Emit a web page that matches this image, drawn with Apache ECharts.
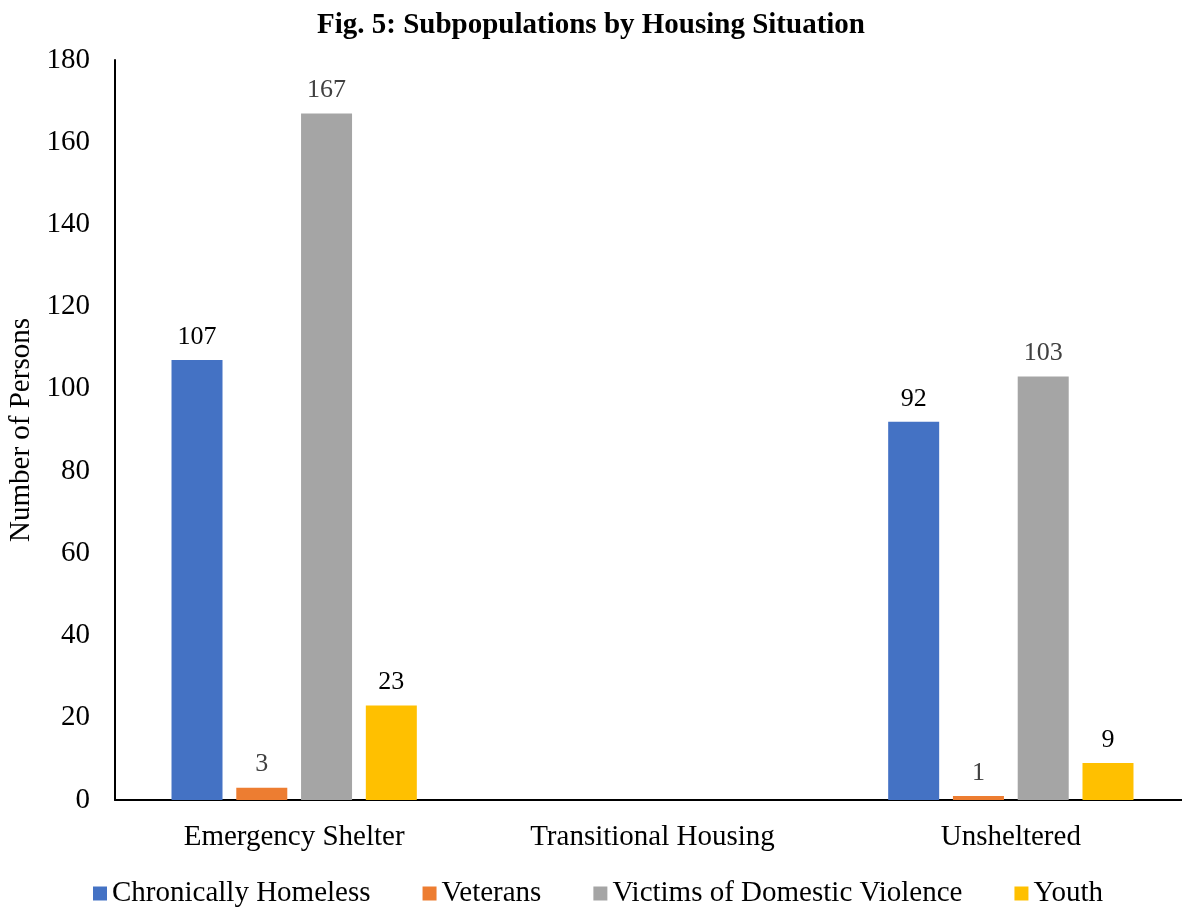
<!DOCTYPE html>
<html>
<head>
<meta charset="utf-8">
<script src="https://cdn.jsdelivr.net/npm/echarts@6/dist/echarts.min.js"></script>
<style>
    html, body { margin: 0; padding: 0; background: #fff; }
    #main { width: 1182px; height: 908px; }
</style>
</head>
<body>
<div id="main"></div>
<script>
var categories = ['Emergency Shelter', 'Transitional Housing', 'Unsheltered'];
var chronicallyHomeless = [107, '-', 92];
var veterans = [3, '-', 1];
var victimsDV = [167, '-', 103];
var youth = [23, '-', 9];
var yTicks = [0, 20, 40, 60, 80, 100, 120, 140, 160, 180];

var font = 'Liberation Serif, Times New Roman, serif';

function barSeries(name, data, color, labelColor) {
    return {
        name: name,
        type: 'bar',
        data: data,
        barWidth: 51,
        barGap: '27%',
        itemStyle: { color: color },
        label: {
            show: true,
            position: 'top',
            distance: 10,
            color: labelColor,
            fontFamily: font,
            fontSize: 26
        }
    };
}

var myChart = echarts.init(document.getElementById('main'));

var option = {
    animation: false,
    title: {
        text: 'Fig. 5: Subpopulations by Housing Situation',
        left: 'center',
        top: 6,
        textStyle: {
            fontFamily: font,
            fontWeight: 'bold',
            fontSize: 29,
            color: '#000'
        }
    },
    legend: {
        top: 874,
        left: 88,
        itemWidth: 14,
        itemHeight: 14,
        itemGap: 52,
        icon: 'rect',
        textStyle: {
            fontFamily: font,
            fontSize: 29,
            color: '#000'
        },
        data: ['Chronically Homeless', 'Veterans', 'Victims of Domestic Violence', 'Youth']
    },
    grid: {
        left: 115,
        top: 60,
        width: 1075,
        height: 740,
        outerBoundsMode: 'none',
        containLabel: false
    },
    xAxis: {
        type: 'category',
        data: categories,
        axisLine: { lineStyle: { color: '#000', width: 2 } },
        axisTick: { show: false },
        axisLabel: {
            fontFamily: font,
            fontSize: 29,
            color: '#000',
            margin: 23
        }
    },
    yAxis: {
        type: 'value',
        min: yTicks[0],
        max: yTicks[yTicks.length - 1],
        interval: 20,
        name: 'Number of Persons',
        nameLocation: 'middle',
        nameGap: 78,
        nameTextStyle: {
            fontFamily: font,
            fontSize: 29,
            color: '#000'
        },
        axisLine: { show: true, lineStyle: { color: '#000', width: 2 } },
        axisTick: { show: false },
        splitLine: { show: false },
        axisLabel: {
            fontFamily: font,
            fontSize: 29,
            color: '#000',
            margin: 25
        }
    },
    series: [
        barSeries('Chronically Homeless', chronicallyHomeless, '#4472c4', '#000'),
        barSeries('Veterans', veterans, '#ed7d31', '#404040'),
        barSeries('Victims of Domestic Violence', victimsDV, '#a5a5a5', '#404040'),
        barSeries('Youth', youth, '#ffc000', '#000')
    ]
};

myChart.setOption(option);
</script>
</body>
</html>
